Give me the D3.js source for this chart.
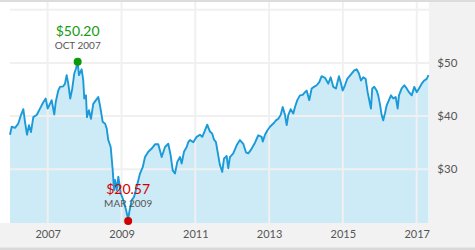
<!DOCTYPE html>
<html>
<head>
<meta charset="utf-8">
<script src="https://cdn.jsdelivr.net/npm/d3@7"></script>
<style>
  html, body { margin: 0; padding: 0; background: #fff; }
  svg { display: block; font-family: Lato, "Open Sans", sans-serif; }
</style>
</head>
<body>
<svg id="chart" width="475" height="250"></svg>
<script>
// Time in decimal years
const years = [2005.978, 2006.024, 2006.114, 2006.203, 2006.276, 2006.339, 2006.385, 2006.439, 2006.493, 2006.547,
  2006.610, 2006.702, 2006.791, 2006.881, 2006.946, 2007.000, 2007.062, 2007.108, 2007.179, 2007.217,
  2007.287, 2007.333, 2007.423, 2007.469, 2007.515, 2007.558, 2007.612, 2007.667, 2007.721, 2007.767,
  2007.813, 2007.848, 2007.921, 2007.965, 2007.992, 2008.038, 2008.065, 2008.119, 2008.173, 2008.236,
  2008.309, 2008.371, 2008.417, 2008.491, 2008.553, 2008.599, 2008.642, 2008.707, 2008.762, 2008.797,
  2008.824, 2008.870, 2008.913, 2008.978, 2009.049, 2009.122, 2009.180, 2009.211, 2009.276, 2009.339,
  2009.412, 2009.501, 2009.575, 2009.637, 2009.726, 2009.818, 2009.908, 2009.997, 2010.089, 2010.179,
  2010.268, 2010.333, 2010.388, 2010.450, 2010.512, 2010.585, 2010.631, 2010.694, 2010.767, 2010.810,
  2010.856, 2010.946, 2011.038, 2011.127, 2011.190, 2011.263, 2011.325, 2011.398, 2011.461, 2011.507,
  2011.561, 2011.623, 2011.669, 2011.732, 2011.778, 2011.851, 2011.894, 2011.940, 2012.030, 2012.122,
  2012.211, 2012.301, 2012.374, 2012.436, 2012.501, 2012.618, 2012.707, 2012.799, 2012.827, 2012.889,
  2012.951, 2013.024, 2013.114, 2013.187, 2013.249, 2013.314, 2013.369, 2013.431, 2013.477, 2013.520,
  2013.585, 2013.656, 2013.702, 2013.764, 2013.837, 2013.911, 2013.973, 2014.019, 2014.089, 2014.154,
  2014.217, 2014.290, 2014.360, 2014.425, 2014.515, 2014.604, 2014.669, 2014.740, 2014.813, 2014.894,
  2014.940, 2014.995, 2015.057, 2015.119, 2015.238, 2015.309, 2015.374, 2015.436, 2015.491, 2015.553,
  2015.618, 2015.672, 2015.707, 2015.762, 2015.797, 2015.851, 2015.916, 2015.959, 2016.005, 2016.052,
  2016.095, 2016.141, 2016.187, 2016.249, 2016.304, 2016.366, 2016.431, 2016.485, 2016.520, 2016.594,
  2016.664, 2016.729, 2016.791, 2016.865, 2016.935, 2017.000, 2017.062, 2017.136, 2017.206, 2017.271,
  2017.320];

// Price in dollars
const prices = [36.5, 38.0, 37.8, 38.6, 40.2, 41.3, 38.9, 36.5, 38.3, 37.0,
  39.8, 40.2, 41.4, 42.6, 43.3, 41.4, 42.3, 43.0, 40.3, 42.6,
  44.8, 45.5, 45.6, 46.1, 47.7, 46.1, 43.3, 45.2, 48.0, 48.9,
  50.2, 47.7, 48.8, 46.7, 43.3, 43.9, 39.8, 41.1, 39.5, 42.3,
  43.0, 43.6, 42.0, 38.9, 38.6, 37.7, 35.5, 34.2, 29.8, 26.1,
  28.0, 26.1, 28.6, 25.5, 24.2, 22.4, 20.57, 22.0, 24.2, 24.8,
  26.7, 29.2, 30.4, 32.3, 33.3, 33.9, 34.7, 34.7, 32.3, 34.2,
  34.8, 32.6, 29.8, 29.2, 31.4, 32.3, 31.1, 33.3, 34.2, 35.1,
  35.5, 35.1, 36.1, 36.5, 36.1, 37.3, 38.4, 37.1, 36.7, 35.6,
  35.1, 32.6, 30.8, 29.5, 32.0, 32.5, 30.2, 32.3, 33.0, 34.5,
  35.5, 34.8, 33.2, 33.0, 33.6, 35.0, 36.4, 36.1, 35.2, 36.5,
  37.3, 38.0, 38.6, 39.2, 39.5, 40.2, 41.7, 40.2, 38.3, 40.2,
  41.3, 40.5, 41.7, 43.0, 43.9, 44.0, 44.5, 44.8, 43.0, 45.2,
  45.5, 45.8, 46.4, 47.5, 47.2, 46.1, 47.3, 45.5, 45.2, 47.5,
  46.4, 44.8, 45.8, 47.0, 48.0, 48.6, 48.8, 48.0, 46.7, 47.3,
  47.0, 44.5, 43.3, 41.4, 45.2, 45.5, 44.8, 43.9, 42.3, 40.2,
  39.2, 40.5, 42.0, 43.0, 43.9, 43.3, 43.6, 41.4, 43.9, 45.2,
  45.8, 45.2, 44.5, 43.9, 45.5, 44.5, 45.2, 46.1, 46.7, 47.0,
  47.7];

const xTickYears = [2007, 2009, 2011, 2013, 2015, 2017];
const yGridValues = [30, 40, 50, 60];
const yLabelValues = [30, 40, 50];

// Annotations: high and low
const highPoint = { year: 2007.813, price: 50.20, label: "$50.20", sub: "OCT 2007" };
const lowPoint = { year: 2009.180, price: 20.57, label: "$20.57", sub: "MAR 2009" };

function yearToDate(t) {
  const y = Math.floor(t);
  const a = new Date(y, 0, 1).getTime();
  const b = new Date(y + 1, 0, 1).getTime();
  return new Date(a + (t - y) * (b - a));
}

const data = years.map((t, i) => ({ date: yearToDate(t), value: prices[i] }));

const W = 475, H = 250;
const plot = { left: 10, right: 429, top: 2, bottom: 222.5 };

const svg = d3.select("#chart");

// Backgrounds
svg.append("rect").attr("x", 0).attr("y", 0).attr("width", W).attr("height", H).attr("fill", "#f2f2f2");
svg.append("rect").attr("x", 0).attr("y", 0).attr("width", plot.right).attr("height", plot.bottom + 0.5).attr("fill", "#ffffff");
svg.append("rect").attr("x", 0).attr("y", 0).attr("width", W).attr("height", 2).attr("fill", "#dcdcdc");
svg.append("rect").attr("x", 0).attr("y", 247.5).attr("width", W).attr("height", 2.5).attr("fill", "#d9d9d9");

const x = d3.scaleTime()
  .domain(d3.extent(data, d => d.date))
  .range([plot.left, 428.5]);

const y = d3.scaleLinear()
  .domain([20, 61.45])
  .range([plot.bottom, plot.top]);

// Area fill
const area = d3.area()
  .x(d => x(d.date))
  .y0(plot.bottom + 0.5)
  .y1(d => y(d.value));

svg.append("path").datum(data)
  .attr("d", area)
  .attr("fill", "#cdeaf7");

// Gridlines
const xTicks = xTickYears.map(v => new Date(v, 0, 1));
svg.append("g").selectAll("line").data(xTicks).join("line")
  .attr("x1", d => x(d)).attr("x2", d => x(d))
  .attr("y1", plot.top).attr("y2", plot.bottom + 0.5)
  .attr("stroke", "#f0f0f0").attr("stroke-width", 2);

svg.append("g").selectAll("line").data(yGridValues).join("line")
  .attr("x1", plot.left).attr("x2", plot.right)
  .attr("y1", d => y(d)).attr("y2", d => y(d))
  .attr("stroke", "#f0f0f0").attr("stroke-width", 2);

// Line
const line = d3.line()
  .x(d => x(d.date))
  .y(d => y(d.value));

svg.append("path").datum(data)
  .attr("d", line)
  .attr("fill", "none")
  .attr("stroke", "#1a9ad8")
  .attr("stroke-width", 1.9)
  .attr("stroke-linejoin", "round");

// Axes (labels only)
const xAxis = d3.axisBottom(x).tickValues(xTicks).tickFormat(d3.timeFormat("%Y")).tickSize(0).tickPadding(0);
const gx = svg.append("g").attr("transform", `translate(0, ${plot.bottom})`).call(xAxis);
gx.select(".domain").remove();
gx.selectAll("text")
  .attr("y", 15.8).attr("dy", 0)
  .attr("fill", "#555").style("font-size", "11px").style("font-family", "Lato, sans-serif");

const yAxis = d3.axisRight(y).tickValues(yLabelValues).tickFormat(d => "$" + d).tickSize(0).tickPadding(0);
const gy = svg.append("g").attr("transform", `translate(${plot.right}, 0)`).call(yAxis);
gy.select(".domain").remove();
gy.selectAll("text")
  .attr("x", 8.3)
  .attr("fill", "#555").style("font-size", "11.5px").style("font-family", "Lato, sans-serif");

// High annotation
const hx = x(yearToDate(highPoint.year)), hy = y(highPoint.price);
svg.append("circle").attr("cx", hx).attr("cy", hy).attr("r", 4).attr("fill", "#0a990a");
svg.append("text").attr("x", hx).attr("y", hy - 26)
  .attr("text-anchor", "middle").attr("fill", "#139a13")
  .style("font-size", "14px").text(highPoint.label);
svg.append("text").attr("x", hx).attr("y", hy - 13.3)
  .attr("text-anchor", "middle").attr("fill", "#555")
  .style("font-size", "10px").text(highPoint.sub);

// Low annotation
const lx = x(yearToDate(lowPoint.year)), ly = y(lowPoint.price);
svg.append("text").attr("x", lx).attr("y", ly - 25.3)
  .attr("text-anchor", "middle").attr("fill", "#d40000")
  .style("font-size", "14px").text(lowPoint.label);
svg.append("text").attr("x", lx).attr("y", ly - 12)
  .attr("text-anchor", "middle").attr("fill", "#555")
  .style("font-size", "10px").text(lowPoint.sub);
svg.append("circle").attr("cx", lx).attr("cy", ly + 1.5).attr("r", 4).attr("fill", "#d00000");
</script>
</body>
</html>
